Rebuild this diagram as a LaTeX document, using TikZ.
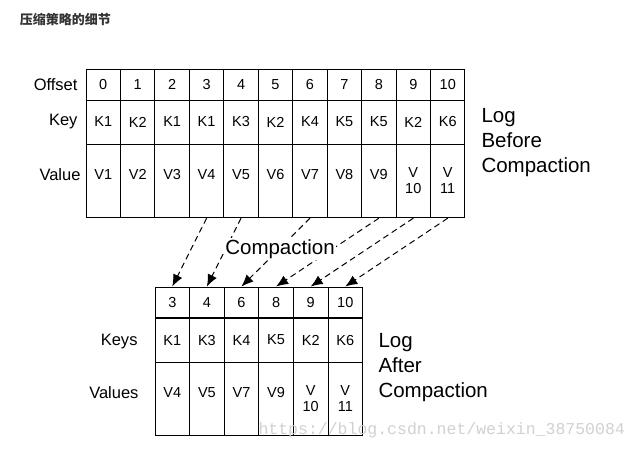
\documentclass[tikz,border=0pt]{standalone}
\usepackage{fontspec}
\setmainfont{Liberation Sans}
\newfontfamily\cjk{Noto Sans CJK SC}
\newfontfamily\wmfont{Liberation Mono}
\usetikzlibrary{arrows.meta}
\usetikzlibrary{calc}

\begin{document}
\begin{tikzpicture}[x=1pt, y=-1pt, line width=1pt,
  cell/.style={draw, inner sep=0pt, font=\fontsize{14.5}{17}\selectfont},
  offrow/.style={cell, minimum height=30.7pt},
  keyrow/.style={cell, minimum height=44pt},
  valrow/.style={cell, minimum height=73.7pt},
  vone/.style={text depth=12pt},
  vtwo/.style={align=center, font=\fontsize{14.5}{17}\selectfont},
  rowname/.style={anchor=east, inner sep=0pt, font=\fontsize{16.5}{20}\selectfont},
  logname/.style={anchor=west, align=left, inner sep=0pt, font=\fontsize{20.5}{25}\selectfont},
  flow/.style={dashed, dash pattern=on 6pt off 4pt, -{Latex[length=12pt, width=10pt]}}]

% white background
\fill[white] (0,0) rectangle (644,450);
%\draw [help lines, lightgray] (0,0) grid [step=50] (644,450);

% title
\node (title) [anchor=west, text=black!80, font=\cjk\bfseries\fontsize{13}{15}\selectfont] at (16,20) {压缩策略的细节};

% log before compaction
\begin{scope}[cell/.append style={minimum width=34.45pt}]
\foreach \k [count=\i from 0] in {K1,K2,K1,K1,K3,K2,K4,K5,K5,K2,K6} {
  \node (off\i) [offrow] at (103.25+34.45*\i, 84.65) {\i};
  \node (key\i) [keyrow] at (103.25+34.45*\i, 122) {\k};
}
\foreach \v [count=\i from 0] in {V1,V2,V3,V4,V5,V6,V7,V8,V9}
  \node (val\i) [valrow, vone] at (103.25+34.45*\i, 180.85) {\v};
\node (val9) [valrow, vtwo] at (103.25+34.45*9, 180.85) {V\\[-1pt]10};
\node (val10) [valrow, vtwo] at (103.25+34.45*10, 180.85) {V\\[-1pt]11};
\end{scope}

\node (offname) [rowname] at (78,85) {Offset};
\node (keyname) [rowname] at (78,122) {Key};
\node (valname) [rowname] at (81,175) {Value};
\node (before) [logname] at (481,143) {Log\\Before\\Compaction};

% log after compaction
\begin{scope}[cell/.append style={minimum width=34.6pt}]
\foreach \o/\k [count=\i from 0] in {3/K1,4/K3,6/K4,8/K5,9/K2,10/K6} {
  \node (aoff\i) [offrow] at (172.3+34.6*\i, 302.35) {\o};
  \node (akey\i) [keyrow] at (172.3+34.6*\i, 340.05) {\k};
}
\foreach \v [count=\i from 0] in {V4,V5,V7,V9}
  \node (aval\i) [valrow, vone] at (172.3+34.6*\i, 398.9) {\v};
\node (aval4) [valrow, vtwo] at (172.3+34.6*4, 398.9) {V\\[-1pt]10};
\node (aval5) [valrow, vtwo] at (172.3+34.6*5, 398.9) {V\\[-1pt]11};
\end{scope}

\node (akeyname) [rowname] at (138,342) {Keys};
\node (avalname) [rowname] at (139,393) {Values};
\node (after) [logname] at (378,368) {Log\\After\\Compaction};

% kept records
\foreach \s/\t in {3/0,4/1,6/2,8/3,9/4,10/5}
  \draw[flow] (val\s.south) -- (aoff\t.north);
\node (compact) [fill=white, inner sep=1.5pt, font=\fontsize{20.5}{25}\selectfont] at (280,249) {Compaction};

% watermark
\node (wm) [anchor=west, text=black!18, inner sep=0pt, font=\wmfont\fontsize{16.5}{20}\selectfont] at (258,430) {https://blog.csdn.net/weixin\_38750084};

\end{tikzpicture}
\end{document}
